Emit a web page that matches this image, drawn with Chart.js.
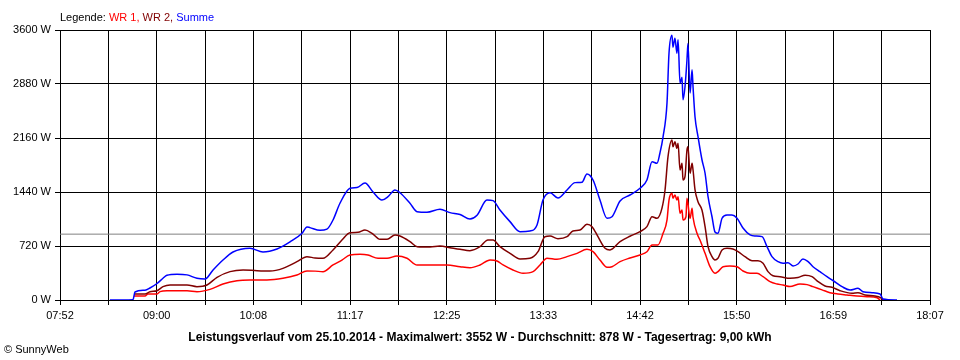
<!DOCTYPE html>
<html>
<head>
<meta charset="utf-8">
<script src="https://cdn.jsdelivr.net/npm/chart.js@4.4.1/dist/chart.umd.min.js"></script>
<style>
  body { margin: 0; background: #fff; }
  #wrap { position: relative; width: 960px; height: 360px; font-family: "Liberation Sans", Arial, sans-serif; }
  #chart { position: absolute; left: 0; top: 0; }
  .txt { position: absolute; white-space: nowrap; font-size: 11px; line-height: 14px; color: #000; }
  #legend { left: 60px; top: 10px; }
  #title { left: 0; width: 960px; top: 330px; text-align: center; font-weight: bold; font-size: 12px; }
  #copy { left: 4px; top: 342px; }
</style>
</head>
<body>
<div id="wrap">
  <canvas id="chart" width="960" height="360"></canvas>
  <div class="txt" id="legend">Legende: <span style="color:#ff0000">WR 1,</span> <span style="color:#800000">WR 2,</span> <span style="color:#0000ff">Summe</span></div>
  <div class="txt" id="title">Leistungsverlauf vom 25.10.2014 - Maximalwert: 3552 W - Durchschnitt: 878 W - Tagesertrag: 9,00 kWh</div>
  <div class="txt" id="copy">© SunnyWeb</div>
</div>
<script>
// time axis in minutes since midnight, 07:52 .. 18:07
const timeLabels = ["07:52", "09:00", "10:08", "11:17", "12:25", "13:33", "14:42", "15:50", "16:59", "18:07"];
const timeStart = 472;
const timeEnd = 1087;
const averageWatt = 878;

// Summe (blue)
const sumTimes = [
  507.3, 523.6, 525.0, 532.1, 535.6, 540.6, 544.8, 547.6, 554.7, 561.8,
  568.8, 574.5, 580.2, 587.2, 594.3, 606.3, 615.5, 625.4, 634.6, 643.1,
  646.6, 648.7, 655.8, 660.7, 665.0, 669.9, 677.0, 682.0, 687.6, 693.3,
  699.6, 703.9, 708.8, 712.3, 719.4, 724.4, 731.4, 740.6, 747.7, 754.8,
  761.8, 766.8, 773.8, 778.1, 783.0, 790.1, 797.2, 804.2, 809.2, 813.4,
  818.4, 824.0, 830.4, 836.1, 841.0, 844.5, 848.8, 853.7, 858.7, 862.2,
  867.9, 874.9, 882.0, 886.9, 890.5, 894.0, 896.1, 898.3, 901.1, 902.5,
  904.6, 905.3, 906.7, 908.1, 908.9, 910.3, 911.7, 912.4, 913.8, 915.2,
  915.9, 917.4, 918.8, 919.5, 920.9, 923.0, 925.8, 928.0, 930.1, 932.9,
  935.0, 937.1, 940.0, 943.5, 947.0, 950.6, 954.8, 959.8, 963.3, 968.3,
  971.8, 975.3, 979.6, 983.1, 986.6, 990.2, 993.7, 997.2, 1000.8, 1004.3,
  1009.2, 1014.2, 1018.4, 1024.8, 1030.5, 1036.1, 1039.6, 1046.0, 1051.7, 1053.8,
  1063.7
];
const sumValues = [
  0, 5, 107, 130, 160, 220, 290, 330, 345, 335,
  290, 280, 400, 533, 640, 690, 640, 680, 775, 890,
  975, 965, 930, 945, 1067, 1290, 1490, 1500, 1560, 1440,
  1333, 1378, 1467, 1430, 1290, 1178, 1170, 1210, 1165, 1140,
  1080, 1130, 1333, 1325, 1200, 1045, 911, 920, 1000, 1333,
  1430, 1360, 1467, 1565, 1570, 1680, 1600, 1333, 1090, 1110,
  1320, 1400, 1490, 1600, 1845, 1822, 1960, 2175, 2630, 3290,
  3530, 3370, 3490, 3290, 3470, 2890, 2970, 2670, 2840, 3200,
  3420, 2760, 3070, 2840, 2440, 2180, 1870, 1690, 1378, 1110,
  907, 890, 1090, 1133, 1133, 1090, 960, 867, 853, 845,
  711, 578, 511, 490, 498, 453, 480, 547, 511, 444,
  378, 311, 260, 178, 133, 156, 111, 98, 80, 13,
  0
];

// WR 2 (dark red)
const wr2Times = [
  524.3, 532.1, 535.6, 540.6, 544.8, 549.8, 561.8, 568.8, 575.9, 583.0,
  592.2, 601.4, 611.3, 620.4, 629.6, 639.5, 646.6, 652.3, 657.9, 665.0,
  671.3, 677.0, 682.7, 687.6, 692.6, 698.2, 703.2, 708.8, 712.3, 719.4,
  724.4, 733.6, 740.6, 747.7, 754.8, 761.8, 768.9, 774.5, 778.1, 783.0,
  790.1, 797.2, 804.2, 809.9, 814.8, 818.4, 824.0, 830.4, 834.6, 839.6,
  844.5, 848.1, 852.3, 857.3, 860.8, 867.9, 874.9, 882.0, 886.9, 890.5,
  894.0, 897.5, 899.7, 901.8, 904.6, 905.3, 906.7, 908.1, 908.9, 910.3,
  911.7, 912.4, 913.8, 915.2, 915.9, 917.4, 918.8, 919.5, 920.9, 923.0,
  925.8, 928.0, 930.1, 932.9, 935.0, 937.1, 940.0, 943.5, 947.7, 951.3,
  956.2, 961.2, 965.4, 969.0, 972.5, 976.0, 981.0, 988.0, 993.7, 998.7,
  1003.6, 1007.9, 1012.8, 1017.7, 1023.4, 1031.9, 1036.1, 1041.1, 1048.1, 1051.7,
  1053.8
];
const wr2Values = [
  80, 80, 110, 124, 178, 200, 200, 178, 200, 302,
  378, 400, 391, 387, 422, 511, 578, 560, 556, 667,
  800, 898, 902, 933, 889, 809, 809, 867, 853, 778,
  711, 707, 720, 698, 676, 658, 711, 800, 800, 711,
  622, 547, 556, 644, 844, 853, 818, 844, 920, 933,
  1009, 978, 844, 689, 667, 778, 850, 911, 978, 1111,
  1089, 1222, 1467, 1911, 2133, 2044, 2111, 2022, 2089, 1733,
  1822, 1600, 1644, 2000, 2044, 1689, 1822, 1733, 1467, 1311,
  1200, 978, 711, 578, 533, 556, 667, 689, 680, 644,
  578, 524, 524, 489, 378, 324, 311, 290, 300, 330,
  311, 244, 187, 169, 124, 89, 98, 67, 53, 36,
  0
];

// WR 1 (red)
const wr1Times = [
  524.3, 532.1, 534.2, 540.6, 542.7, 547.6, 561.8, 568.8, 578.0, 587.2,
  597.1, 606.3, 618.3, 629.6, 639.5, 646.6, 652.3, 657.9, 665.0, 671.3,
  677.0, 684.1, 689.7, 696.8, 703.2, 710.2, 717.3, 724.4, 735.7, 745.6,
  754.8, 761.8, 768.9, 776.0, 780.9, 785.2, 792.2, 799.3, 806.4, 811.3,
  816.3, 823.3, 830.4, 837.5, 844.5, 848.8, 853.7, 858.7, 862.2, 867.9,
  874.9, 882.0, 886.9, 890.5, 894.7, 898.3, 901.1, 902.5, 904.6, 905.3,
  906.7, 908.1, 908.9, 910.3, 911.7, 912.4, 914.5, 915.2, 917.4, 918.8,
  919.5, 922.3, 924.4, 928.0, 931.5, 935.0, 937.1, 940.7, 945.6, 950.6,
  954.8, 959.8, 964.7, 969.0, 973.9, 978.9, 983.1, 988.0, 995.1, 1000.1,
  1004.3, 1010.7, 1016.3, 1021.9, 1028.3, 1035.4, 1042.5, 1049.6, 1051.7
];
const wr1Values = [
  53, 53, 80, 80, 111, 124, 124, 111, 142, 213,
  258, 267, 267, 289, 333, 387, 385, 378, 467, 533,
  600, 609, 600, 556, 556, 587, 556, 467, 467, 467,
  444, 431, 467, 533, 520, 467, 400, 356, 378, 467,
  556, 542, 578, 622, 676, 644, 533, 436, 444, 511,
  560, 600, 644, 733, 733, 889, 1067, 1333, 1422, 1356,
  1400, 1333, 1378, 1156, 1200, 1067, 1111, 1356, 1089, 1222,
  1100, 889, 800, 622, 444, 356, 378, 444, 453, 444,
  387, 356, 356, 311, 244, 213, 200, 180, 213, 205,
  178, 135, 98, 80, 67, 53, 44, 31, 0
];

function toPoints(times, values) {
  return times.map((t, i) => ({ x: t, y: values[i] }));
}

const gridStep = (timeEnd - timeStart) / 18;

const lineStyle = {
  pointRadius: 0,
  borderWidth: 1.5,
  fill: false,
  cubicInterpolationMode: "monotone"
};

new Chart(document.getElementById("chart"), {
  type: "line",
  data: {
    datasets: [
      Object.assign({ label: "Summe", data: toPoints(sumTimes, sumValues), borderColor: "#0000ff", order: 1 }, lineStyle),
      Object.assign({ label: "WR 2", data: toPoints(wr2Times, wr2Values), borderColor: "#800000", order: 2 }, lineStyle),
      Object.assign({ label: "WR 1", data: toPoints(wr1Times, wr1Values), borderColor: "#ff0000", order: 3 }, lineStyle),
      {
        label: "Durchschnitt",
        data: [{ x: timeStart, y: averageWatt }, { x: timeEnd, y: averageWatt }],
        borderColor: "#808080",
        borderWidth: 1,
        pointRadius: 0,
        order: 4
      }
    ]
  },
  options: {
    responsive: false,
    animation: false,
    devicePixelRatio: 1,
    layout: { padding: { left: 0, top: 30, right: 30, bottom: 0 } },
    plugins: { legend: { display: false }, tooltip: { enabled: false } },
    scales: {
      x: {
        type: "linear",
        min: timeStart,
        max: timeEnd,
        afterBuildTicks: (scale) => {
          const ticks = [];
          for (let i = 0; i <= 18; i++) ticks.push({ value: timeStart + i * gridStep });
          scale.ticks = ticks;
        },
        afterFit: (scale) => { scale.height = 60; },
        ticks: {
          autoSkip: false,
          maxRotation: 0,
          padding: 4,
          color: "#000",
          font: { family: "'Liberation Sans', Arial, sans-serif", size: 11 },
          callback: (value, index) => (index % 2 === 0 ? timeLabels[index / 2] : "")
        },
        grid: { color: "#000", lineWidth: 1, tickLength: 5 },
        border: { color: "#000", width: 1 }
      },
      y: {
        min: 0,
        max: 3600,
        afterFit: (scale) => { scale.width = 60; },
        ticks: {
          stepSize: 720,
          padding: 4,
          color: "#000",
          font: { family: "'Liberation Sans', Arial, sans-serif", size: 11 },
          callback: (value) => value + " W"
        },
        grid: { color: "#000", lineWidth: 1, tickLength: 5 },
        border: { color: "#000", width: 1 }
      }
    }
  }
});
</script>
</body>
</html>
